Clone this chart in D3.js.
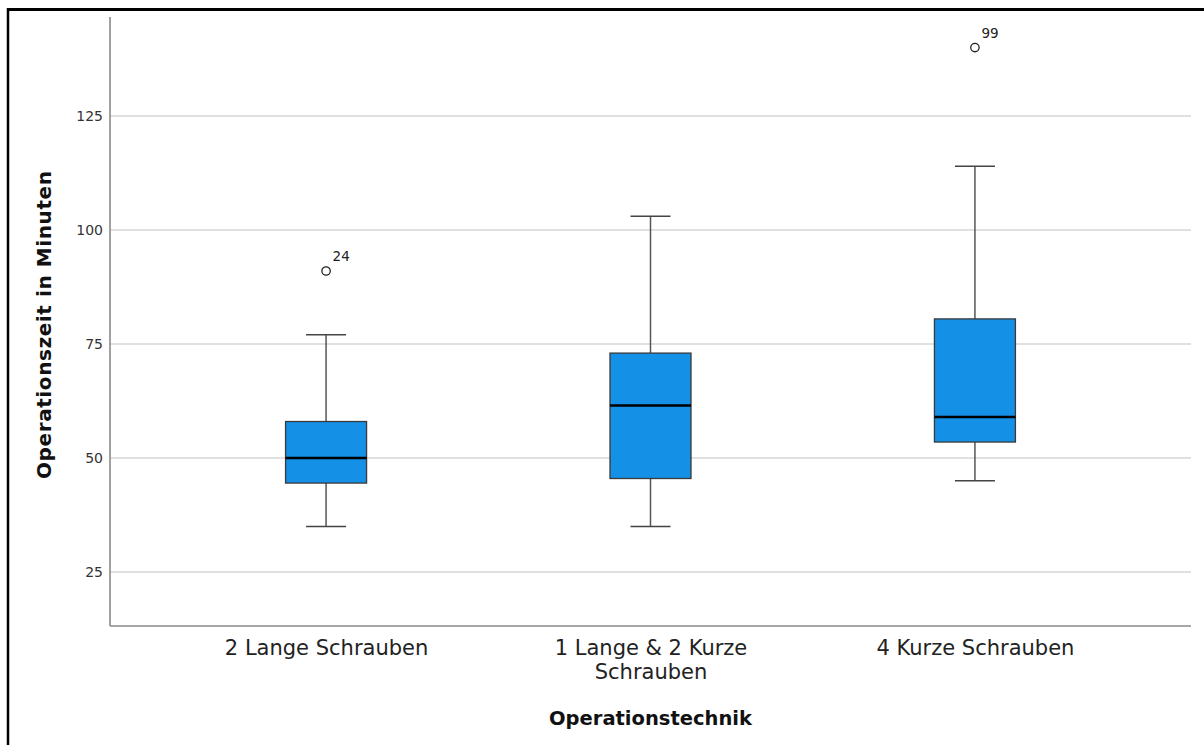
<!DOCTYPE html>
<html>
<head>
<meta charset="utf-8">
<script src="https://cdn.jsdelivr.net/npm/d3@7"></script>
<style>
html,body{margin:0;padding:0;background:#fff;}
svg{display:block;}
</style>
</head>
<body>
<svg id="chart" width="1204" height="745"></svg>
<script>
const categories = [["2 Lange Schrauben"], ["1 Lange & 2 Kurze", "Schrauben"], ["4 Kurze Schrauben"]];
const whiskerLow  = [35, 35, 45];
const q1          = [44.5, 45.5, 53.5];
const median      = [50, 61.5, 59];
const q3          = [58, 73, 80.5];
const whiskerHigh = [77, 103, 114];
const outliers    = [[{v: 91, label: "24"}], [], [{v: 140, label: "99"}]];
const yTicks      = [25, 50, 75, 100, 125];
const yTitle = "Operationszeit in Minuten";
const xTitle = "Operationstechnik";

(function() {
const svg = d3.select("#chart");
const pL = 110, pR = 1191, pT = 17, pB = 626;
const font = "'DejaVu Sans', sans-serif";

const y = d3.scaleLinear().domain([13.16, 146.7]).range([pB, pT]);
const x = d3.scalePoint().domain(d3.range(categories.length)).range([pL, pR]).padding(0.666);
const boxW = 81, capW = 40;

// frame (partial, left & top)
svg.append("line").attr("x1", 8).attr("x2", 8).attr("y1", 8).attr("y2", 745).attr("stroke", "#000").attr("stroke-width", 2.5);
svg.append("line").attr("x1", 7).attr("x2", 1204).attr("y1", 9.5).attr("y2", 9.5).attr("stroke", "#000").attr("stroke-width", 3);

// gridlines
svg.append("g").selectAll("line").data(yTicks).join("line")
  .attr("x1", pL).attr("x2", pR)
  .attr("y1", d => y(d)).attr("y2", d => y(d))
  .attr("stroke", "#d6d6d6").attr("stroke-width", 1.6);

// y axis
const yAxis = svg.append("g").attr("transform", `translate(${pL},0)`)
  .call(d3.axisLeft(y).tickValues(yTicks).tickSize(0).tickPadding(7));
yAxis.select(".domain").attr("d", `M0,${pT}V${pB}`).attr("stroke", "#8a8a8a").attr("stroke-width", 1.6);
yAxis.selectAll("text").attr("font-family", font).attr("font-size", 14).attr("fill", "#333").attr("dy", "0.35em");

// x axis
const xAxis = svg.append("g").attr("transform", `translate(0,${pB})`)
  .call(d3.axisBottom(x).tickSize(0).tickFormat(""));
xAxis.select(".domain").attr("d", `M${pL},0H${pR}`).attr("stroke", "#8a8a8a").attr("stroke-width", 1.6);
xAxis.selectAll(".tick").each(function(d) {
  const t = d3.select(this).append("text")
    .attr("text-anchor", "middle").attr("font-family", font).attr("font-size", 21)
    .attr("fill", "#222");
  categories[d].forEach((line, i) => {
    t.append("tspan").attr("x", 0).attr("y", 29 + i * 24).text(line);
  });
});

// boxes
const g = svg.append("g");
categories.forEach((c, i) => {
  const cx = x(i);
  const gg = g.append("g");
  gg.append("line").attr("x1", cx).attr("x2", cx).attr("y1", y(whiskerHigh[i])).attr("y2", y(q3[i]))
    .attr("stroke", "#555").attr("stroke-width", 1.5);
  gg.append("line").attr("x1", cx).attr("x2", cx).attr("y1", y(q1[i])).attr("y2", y(whiskerLow[i]))
    .attr("stroke", "#555").attr("stroke-width", 1.5);
  gg.append("line").attr("x1", cx - capW/2).attr("x2", cx + capW/2).attr("y1", y(whiskerHigh[i])).attr("y2", y(whiskerHigh[i]))
    .attr("stroke", "#444").attr("stroke-width", 1.5);
  gg.append("line").attr("x1", cx - capW/2).attr("x2", cx + capW/2).attr("y1", y(whiskerLow[i])).attr("y2", y(whiskerLow[i]))
    .attr("stroke", "#444").attr("stroke-width", 1.5);
  gg.append("rect").attr("x", cx - boxW/2).attr("width", boxW)
    .attr("y", y(q3[i])).attr("height", y(q1[i]) - y(q3[i]))
    .attr("fill", "#1490e6").attr("stroke", "#3a3a3a").attr("stroke-width", 1.3);
  gg.append("line").attr("x1", cx - boxW/2).attr("x2", cx + boxW/2).attr("y1", y(median[i])).attr("y2", y(median[i]))
    .attr("stroke", "#000").attr("stroke-width", 2.6);
  outliers[i].forEach(o => {
    gg.append("circle").attr("cx", cx).attr("cy", y(o.v)).attr("r", 4.2)
      .attr("fill", "#fff").attr("stroke", "#222").attr("stroke-width", 1.3);
    gg.append("text").attr("x", cx + 6.5).attr("y", y(o.v) - 10).attr("font-family", font)
      .attr("font-size", 13.5).attr("fill", "#222").text(o.label);
  });
});

// axis titles
svg.append("text").attr("x", (pL + pR) / 2).attr("y", 725).attr("text-anchor", "middle")
  .attr("font-family", font).attr("font-weight", "bold").attr("font-size", 19.5).attr("fill", "#111")
  .text(xTitle);
svg.append("text").attr("transform", `translate(51,${325}) rotate(-90)`).attr("text-anchor", "middle")
  .attr("font-family", font).attr("font-weight", "bold").attr("font-size", 20).attr("fill", "#111")
  .attr("textLength", 308).attr("lengthAdjust", "spacing")
  .text(yTitle);
})();
</script>
</body>
</html>
